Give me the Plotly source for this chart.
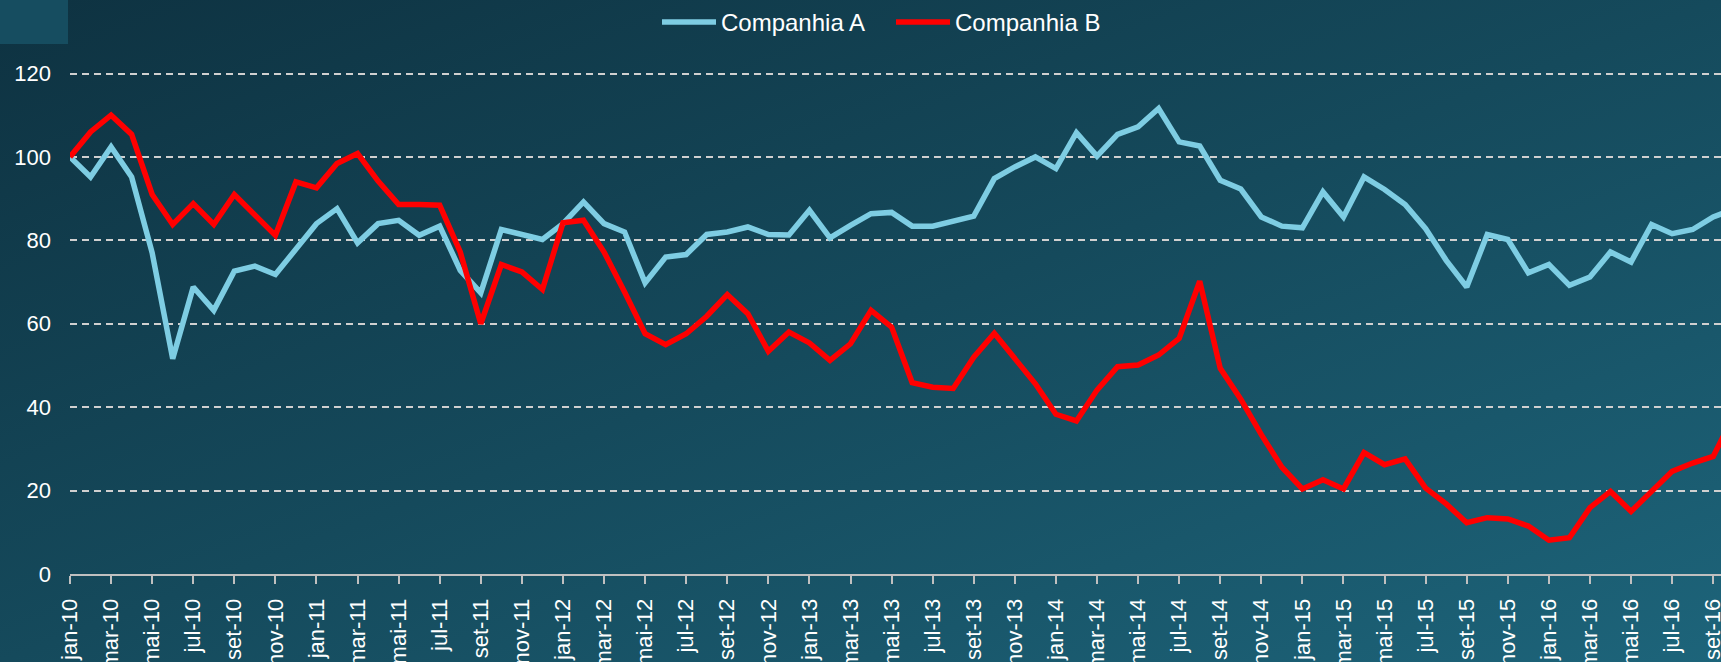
import base64
import plotly.graph_objects as go

months = ["jan", "fev", "mar", "abr", "mai", "jun", "jul", "ago", "set", "out", "nov", "dez"]
years = ["10", "11", "12", "13", "14", "15", "16"]
categories = [f"{m}-{y}" for y in years for m in months][:82]  # jan-10 .. out-16

companhia_a = [
    100, 95.2, 102.4, 95.2, 77, 51.6, 68.8, 63.2, 72.6, 73.8, 71.8, 78,
    84, 87.6, 79.4, 84, 84.8, 81.2, 83.4, 72.8, 67.4, 82.6, 81.4, 80.2,
    84, 89.2, 84, 82, 69.8, 76, 76.6, 81.4, 82, 83.2, 81.4, 81.3,
    87.2, 80.6, 83.6, 86.4, 86.7, 83.4, 83.4, 84.6, 85.8, 94.8, 97.6, 100,
    97.2, 105.8, 100.2, 105.4, 107.2, 111.6, 103.6, 102.6, 94.4, 92.3, 85.6, 83.4,
    83, 91.6, 85.6, 95.2, 92.2, 88.6, 82.8, 75.2, 68.8, 81.4, 80.2, 72.2,
    74.2, 69.2, 71.2, 77.2, 74.8, 83.8, 81.6, 82.6, 85.6, 87.5,
]
companhia_b = [
    100, 106, 110, 105.4, 91, 83.8, 88.8, 83.8, 91, 86, 81.2, 94,
    92.6, 98.4, 100.8, 94.2, 88.6, 88.6, 88.4, 77.2, 60, 74.2, 72.4, 68.2,
    84.2, 84.8, 77.2, 67.6, 57.6, 55, 57.6, 61.8, 67, 62.4, 53.4, 58,
    55.4, 51.2, 55.2, 63.2, 59.2, 45.9, 44.8, 44.5, 52, 57.7, 51.7, 45.6,
    38.3, 36.7, 44.1, 49.7, 50.1, 52.5, 56.5, 70.2, 49.3, 41.9, 33.4, 25.6,
    20.4, 22.6, 20.4, 29.1, 26.2, 27.6, 20.6, 16.8, 12.3, 13.5, 13.2, 11.5,
    8.1, 8.7, 15.9, 19.8, 15.0, 19.8, 24.6, 26.6, 28.2, 38,
]
tick_labels = categories[0:81:2]
y_ticks = [0, 20, 40, 60, 80, 100, 120]

W, H = 1721, 662
ML, MR, MT, MB = 70, 0, 70, 88
PW, PH = W - ML - MR, H - MT - MB
Y_TOP = 120 * PH / (574 - 73.5)  # keep the 120 line just inside the plot

svg = (
    f"<svg xmlns='http://www.w3.org/2000/svg' width='{W}' height='{H}' preserveAspectRatio='none'>"
    "<defs><linearGradient id='g' x1='0' y1='0' x2='1' y2='1'>"
    "<stop offset='0' stop-color='#0e3241'/>"
    "<stop offset='0.5' stop-color='#154a5c'/>"
    "<stop offset='1' stop-color='#1d647a'/>"
    "</linearGradient></defs>"
    f"<rect width='{W}' height='{H}' fill='url(#g)'/></svg>"
)
bg_uri = "data:image/svg+xml;base64," + base64.b64encode(svg.encode()).decode()

fig = go.Figure()
fig.add_trace(go.Scatter(x=categories, y=companhia_a, mode="lines", name="Companhia A",
                         line=dict(color="#7ecde3", width=5.5)))
fig.add_trace(go.Scatter(x=categories, y=companhia_b, mode="lines", name="Companhia B",
                         line=dict(color="#ff0000", width=5.5)))

fig.update_layout(
    width=W, height=H,
    margin=dict(l=ML, r=MR, t=MT, b=MB, pad=0),
    paper_bgcolor="#133f50",
    plot_bgcolor="rgba(0,0,0,0)",
    font=dict(family="Liberation Sans, Arial, sans-serif", color="#ffffff", size=22),
    images=[dict(source=bg_uri, xref="paper", yref="paper",
                 x=-ML / PW, y=1 + MT / PH, sizex=W / PW, sizey=H / PH,
                 xanchor="left", yanchor="top", sizing="stretch", layer="below")],
    shapes=[dict(type="rect", xref="paper", yref="paper", layer="below",
                 x0=-ML / PW, x1=-(ML - 68) / PW, y0=1 + (MT - 44) / PH, y1=1 + MT / PH,
                 fillcolor="#164d60", line=dict(width=0))],
    showlegend=True,
    legend=dict(orientation="h", x=(662 - ML - 5) / PW, xanchor="left",
                y=1 + (MT - 22) / PH, yanchor="middle",
                font=dict(size=24, color="#ffffff"), bgcolor="rgba(0,0,0,0)",
                itemwidth=54, entrywidth=165, entrywidthmode="pixels",
                traceorder="normal"),
    xaxis=dict(
        type="category", range=[0, (W - ML) / 20.54],
        tickmode="array", tickvals=tick_labels, ticktext=tick_labels,
        tickangle=-90, ticks="outside", ticklen=8, tickwidth=2, tickcolor="#c0c0c0",
        showline=True, linecolor="#c0c0c0", linewidth=2,
        showgrid=False, zeroline=False, automargin=False,
        tickfont=dict(size=22, color="#ffffff"), ticklabelstandoff=6,
    ),
    yaxis=dict(
        range=[0, Y_TOP], tickmode="array", tickvals=y_ticks,
        showgrid=True, gridcolor="#d0d0d0", gridwidth=2, griddash="7px,5px",
        zeroline=False, showline=False, automargin=False,
        tickfont=dict(size=22, color="#ffffff"), ticklabelstandoff=18,
    ),
)

fig.write_html(
    "out.html",
    config={"displayModeBar": False},
    post_script="document.body.style.margin='0';document.body.style.overflow='hidden';",
)
